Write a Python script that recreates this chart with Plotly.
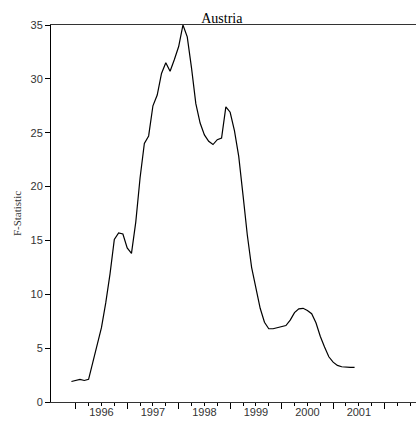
import plotly.graph_objects as go

# monthly F-statistic, Dec 1995 .. Jun 2001
start_year = 1995
start_month = 12
f_stat = [
    1.9, 2.0, 2.1, 2.0, 2.1, 3.7, 5.3, 6.9, 9.2, 11.9,
    15.1, 15.7, 15.6, 14.3, 13.8, 16.7, 20.8, 24.0, 24.7, 27.5,
    28.5, 30.5, 31.5, 30.7, 31.8, 33.0, 35.0, 33.9, 31.0, 27.7,
    25.9, 24.8, 24.2, 23.9, 24.35, 24.5, 27.4, 26.9, 25.2, 22.8,
    19.2, 15.5, 12.5, 10.5, 8.7, 7.4, 6.8, 6.8, 6.9, 6.95,
    7.1, 7.6, 8.3, 8.65, 8.7, 8.5, 8.2, 7.35, 6.1, 5.1,
    4.2, 3.7, 3.4, 3.27, 3.22, 3.22, 3.22,
]
dates = [start_year + (start_month - 1 + i) / 12 for i in range(len(f_stat))]

year_labels = ["1996", "1997", "1998", "1999", "2000", "2001"]
year_ticks = [1996, 1997, 1998, 1999, 2000, 2001, 2002]
quarter_ticks = [y + q for y in range(1996, 2003) for q in (0.25, 0.5, 0.75)]
y_ticks = [0, 5, 10, 15, 20, 25, 30, 35]

x_range = [1995.52, 2002.61]

fig = go.Figure()

fig.add_trace(
    go.Scatter(
        x=dates,
        y=f_stat,
        mode="lines",
        line=dict(color="black", width=1.2),
        showlegend=False,
        hoverinfo="skip",
    )
)

# dummy trace so the label axis gets drawn
fig.add_trace(
    go.Scatter(
        x=[x_range[0]],
        y=[0],
        xaxis="x2",
        mode="markers",
        marker=dict(opacity=0),
        showlegend=False,
        hoverinfo="skip",
    )
)

fig.update_layout(
    width=416,
    height=425,
    margin=dict(l=51, r=0, t=25, b=23),
    plot_bgcolor="white",
    paper_bgcolor="white",
    title=dict(
        text="Austria",
        x=0.468,
        xanchor="center",
        xref="paper",
        y=1,
        yref="paper",
        yanchor="bottom",
        pad=dict(b=2),
        font=dict(family="Liberation Serif", size=14, color="black"),
    ),
    xaxis=dict(
        range=x_range,
        tickmode="array",
        tickvals=year_ticks,
        showticklabels=False,
        ticks="outside",
        ticklen=6,
        tickcolor="black",
        tickwidth=1,
        minor=dict(
            tickmode="array",
            tickvals=quarter_ticks,
            ticks="outside",
            ticklen=3,
            tickcolor="black",
            tickwidth=1,
            showgrid=False,
        ),
        showline=True,
        linecolor="#333",
        linewidth=1,
        mirror=True,
        showgrid=False,
        zeroline=False,
        automargin=False,
    ),
    xaxis2=dict(
        range=x_range,
        overlaying="x",
        side="bottom",
        anchor="y",
        tickmode="array",
        tickvals=[int(y) + 0.5 for y in year_labels],
        ticktext=year_labels,
        ticks="",
        showline=False,
        showgrid=False,
        zeroline=False,
        tickfont=dict(family="Liberation Sans", size=11, color="#333"),
        ticklabelstandoff=2,
        automargin=False,
    ),
    yaxis=dict(
        range=[0, 35],
        tickmode="array",
        tickvals=y_ticks,
        ticks="outside",
        ticklen=5,
        tickcolor="black",
        tickfont=dict(family="Liberation Sans", size=11, color="#333"),
        showline=True,
        linecolor="black",
        linewidth=1,
        showgrid=False,
        zeroline=False,
        automargin=False,
        title=dict(
            text="F-Statistic",
            font=dict(family="Liberation Serif", size=11, color="#333"),
            standoff=6,
        ),
    ),
)

fig.write_html(
    "out.html",
    config={"displayModeBar": False},
    post_script="document.body.style.margin='0';",
)
